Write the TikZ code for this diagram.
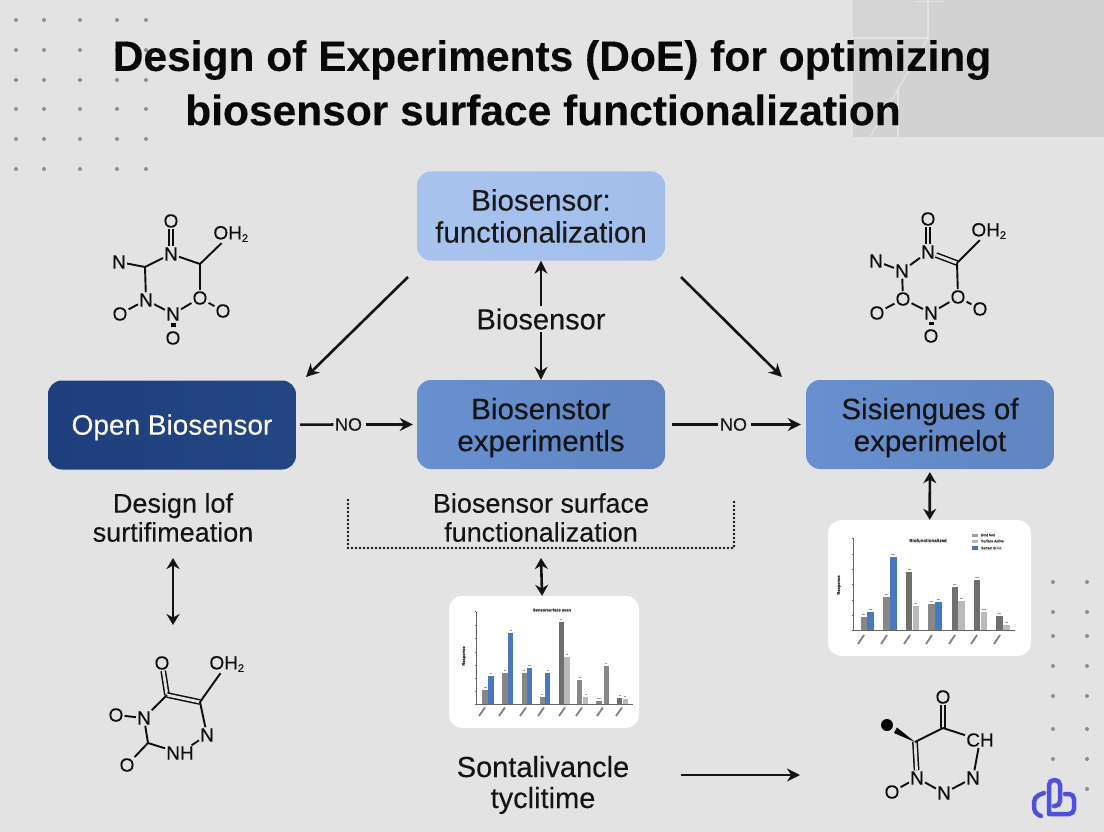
\documentclass[tikz,border=0pt]{standalone}
\usepackage{xcolor}
\usepackage{fontspec}
\setmainfont{Liberation Sans}[FakeBold=0.2]
\usetikzlibrary{arrows.meta}

\tikzset{
  box/.style={rounded corners=14pt, minimum width=248pt, minimum height=89pt, align=center, inner sep=0pt, font=\fontsize{29.5}{32}\selectfont},
  caption/.style={align=center, inner sep=0pt, text=black!92, font=\fontsize{27}{29}\selectfont},
  flow/.style={line width=2.6pt, black!92, -{Stealth[length=13pt,width=13pt]}},
  plainflow/.style={line width=2.6pt, black!92},
  twoway/.style={line width=2.6pt, black!92, {Stealth[length=11pt,width=13pt]}-{Stealth[length=11pt,width=13pt]}},
  atom/.style={inner sep=1pt, font=\fontsize{19}{20}\selectfont, text=black!95},
  bond/.style={line width=1.9pt, black!95},
  dblbond/.style={line width=1.5pt, black!95, double=bgGray, double distance=2.8pt},
  sqbond/.style={line width=5pt, shorten >=3pt, shorten <=1pt},
  chart/.style={fill=white, rounded corners=13pt, inner sep=0pt},
  tinytext/.style={inner sep=0pt, font=\bfseries\fontsize{4}{5}\selectfont, text=black!80},
  logoline/.style={logoBlue, line width=4.5pt, rounded corners=5pt, line cap=round}
}

\begin{document}
\begin{tikzpicture}[x=1pt, y=-1pt]

% Colours
\definecolor{bgGray}{HTML}{E3E3E3}
\definecolor{cornerGray}{HTML}{D2D2D2}
\definecolor{dotGray}{HTML}{8E8E8E}
\definecolor{boxTop}{HTML}{A8C3EE}
\definecolor{boxMid}{HTML}{6890D0}
\definecolor{boxDark}{HTML}{1E3F7C}
\definecolor{barBlue}{HTML}{4A78BE}
\definecolor{barGray}{HTML}{878787}
\definecolor{barDark}{HTML}{6F6F6F}
\definecolor{barLight}{HTML}{BABABA}
\definecolor{logoBlue}{HTML}{4E50DE}

% Background
\fill[bgGray] (0,0) rectangle (1104,832);
\useasboundingbox (0,0) rectangle (1104,832);
\fill[cornerGray] (853,0) rectangle (1104,137);
\fill[black!17] (853,0) rectangle (928,38);
\draw[black!11, line width=1.3pt] (928,0) -- (928,38) -- (853,38);
\draw[black!11, line width=1.3pt] (915,1.5) -- (943,1.5);
\draw[black!11, line width=1.3pt] (928,38) -- (870,137);
\draw[black!11, line width=1.3pt] (898,87) -- (898,137);

% Dot grids
\foreach \x in {16,44,80,117,146} \foreach \y in {20,50,80,109,139,169}
  \fill[dotGray] (\x,\y) circle (2pt);
\foreach \x in {1053,1087} \foreach \y in {582,612,636,666,696,729,759}
  \fill[dotGray] (\x,\y) circle (2pt);
\fill[dotGray] (1087,789) circle (2pt);

% Title
\node[font=\bfseries\fontsize{42.5}{50}\selectfont, text=black!97, inner sep=0pt] (titleA) at (552,60) {Design of Experiments (DoE) for optimizing};
\node[font=\bfseries\fontsize{42.5}{50}\selectfont, text=black!97, inner sep=0pt] (titleB) at (543,110) {biosensor surface functionalization};

% Boxes
\node[box, left color=boxTop, right color=boxTop!90!boxMid, text=black!90] (topBox) at (541,216) {Biosensor:\\functionalization};
\node[box, left color=boxMid, right color=boxMid!92!black, text=black!92] (midBox) at (541,424.5) {\rule{0pt}{27.5pt}Biosenstor\\experimentls};
\node[box, left color=boxMid, right color=boxMid!92!black, text=black!92] (rightBox) at (930,424.5) {\rule{0pt}{27.5pt}Sisiengues of\\experimelot};
\node[box, left color=boxDark, right color=boxDark!92!boxMid, text=white, font=\fontsize{28}{30}\selectfont] (openBox) at (172,425) {\rule{0pt}{25pt}Open Biosensor};

% Captions
\node[inner sep=2pt, font=\fontsize{29}{31}\selectfont, text=black!92] (sensorLabel) at (541,319) {Biosensor};
\node[caption] (designLabel) at (173,517.5) {Design lof\\surtifimeation};
\node[caption] (surfaceLabel) at (541,517.5) {Biosensor surface\\functionalization};
\node[caption, font=\fontsize{29}{31}\selectfont] (sontaLabel) at (543,785) {Sontalivancle\\tyclitime};
\node[inner sep=1.5pt, font=\fontsize{18}{20}\selectfont, text=black!90] (noA) at (348.5,424.5) {NO};
\node[inner sep=1.5pt, font=\fontsize{18}{20}\selectfont, text=black!90] (noB) at (733.5,424.5) {NO};

% Connectors
\coordinate (diagLa) at (408,277);
\coordinate (diagLb) at (306,377);
\coordinate (diagRa) at (681,277);
\coordinate (diagRb) at (782,377);
\coordinate (designEnd) at (173,625);
\coordinate (designStart) at (173,558);
\coordinate (sontaStart) at (681,775);
\coordinate (sontaEnd) at (800,775);
\coordinate (bracketLa) at (348,500);
\coordinate (bracketLb) at (348,548);
\coordinate (bracketRb) at (734,548);
\coordinate (bracketRa) at (734,500);
\coordinate (bracketMid) at (541,558);

\draw[flow] (diagLa) -- (diagLb);
\draw[flow] (diagRa) -- (diagRb);
\draw[flow] (sensorLabel) -- (topBox);
\draw[flow] (sensorLabel) -- (midBox);
\draw[plainflow, shorten <=4pt] (openBox) -- (noA);
\draw[flow, shorten >=4pt, shorten <=2pt] (noA) -- (midBox);
\draw[plainflow, shorten <=7pt] (midBox) -- (noB);
\draw[flow, shorten >=5pt, shorten <=2pt] (noB) -- (rightBox);
\draw[twoway] (designStart) -- (designEnd);
\draw[flow] (sontaStart) -- (sontaEnd);
\draw[line width=2.6pt, black!92, line cap=round, dash pattern=on 0pt off 4pt] (bracketLa) -- (bracketLb) -- (bracketRb) -- (bracketRa);

% Chart below the middle box
\node[chart, minimum width=190pt, minimum height=132pt] (chartMid) at (544,662) {};
\draw[twoway] (bracketMid) -- (chartMid);
\foreach \xa/\xb/\yt/\col in {482/488/690/barGray, 488/493.5/676/barBlue, 502/507.5/673/barGray, 508/513/633/barBlue,
    521.5/526.5/672.5/barGray, 526.5/532/668/barBlue, 539.5/544.5/697/barGray, 545/550/673/barBlue,
    558.5/563.5/621.5/barDark, 564/569.5/657/barLight, 577/582/680/barGray, 583/588/697/barLight,
    595.5/602/701/barGray, 603.5/608.5/666/barGray, 617/622/698/barDark, 622.5/627.5/699/barLight}
{
  \fill[\col] (\xa,\yt) rectangle (\xb,704.3);
  \fill[black!40] (\xa+1.5,\yt-2.8) rectangle (\xb-1.5,\yt-1.6);
}
\draw[black!60, line width=0.5pt] (476,611.5) -- (476,704.3) -- (632.5,704.3);
\foreach \y in {611.5,625.5,638.5,652,665.5,678.5,691.5,704.3}
  \draw[black!60, line width=0.5pt] (474.5,\y) -- (476,\y);
\foreach \x in {485,505,526,544,565,582,603,622}
  \draw[black!50, line width=1.8pt] (\x,707.5) -- (\x-6,716);
\node[tinytext] (chartMidTitle) at (552,610) {Sensorsurface scan};
\node[tinytext, rotate=90] (chartMidAxis) at (464,656) {Response};

% Chart below the right box
\node[chart, minimum width=203pt, minimum height=136pt] (chartRight) at (929.5,588) {};
\draw[twoway, shorten <=3pt] (rightBox) -- (chartRight);
\foreach \xa/\xb/\yt/\col in {860.5/866.5/617/barGray, 867/873.5/612/barBlue, 883/889.5/596.5/barGray, 889.5/896.5/556.5/barBlue,
    906/912/571.5/barDark, 912.5/918.5/606/barLight, 928/934.5/604/barGray, 935/941.5/601.5/barBlue,
    951.5/957.5/586.5/barDark, 958/964.5/601/barLight, 973.5/980/579.5/barDark, 980.5/987/612/barLight,
    996/1002.5/616/barDark, 1003/1009.5/624.5/barLight}
{
  \fill[\col] (\xa,\yt) rectangle (\xb,630.7);
  \fill[black!40] (\xa+1.5,\yt-2.8) rectangle (\xb-1.5,\yt-1.6);
}
\draw[black!60, line width=0.5pt] (853.5,538.5) -- (853.5,630.7) -- (1015,630.7);
\foreach \y in {538.5,554,569.5,584.5,600.5,615.5,630.7}
  \draw[black!60, line width=0.5pt] (852,\y) -- (853.5,\y);
\foreach \x in {864,887,910,932,955,977,1000}
  \draw[black!50, line width=1.8pt] (\x,635) -- (\x-6,644);
\node[tinytext, font=\bfseries\fontsize{4.5}{5}\selectfont] (chartRightTitle) at (928,540.5) {Biofunctionalized};
\node[tinytext, rotate=90] (chartRightAxis) at (839,585) {Response};
\fill[barGray!80] (972,533.5) rectangle (978,537);
\fill[barLight] (972,539.5) rectangle (978,543);
\fill[barBlue] (972,546) rectangle (978,549.5);
\node[tinytext, anchor=west, font=\fontsize{3.5}{4}\selectfont] (legendA) at (981,535) {Bind test};
\node[tinytext, anchor=west, font=\fontsize{3.5}{4}\selectfont] (legendB) at (981,541) {Surface Active};
\node[tinytext, anchor=west, font=\fontsize{3.5}{4}\selectfont] (legendC) at (981,548) {Sensor Bi Fn};

% Molecule top left
\node[atom] (tlO) at (171,221) {O};
\node[atom] (tlN) at (171,254) {N};
\coordinate (tlCa) at (200,264);
\node[atom] (tlOH) at (231,234) {OH\textsubscript{\fontsize{11}{11}\selectfont 2}};
\node[atom] (tlOb) at (200,298) {O};
\node[atom] (tlOc) at (223,311) {O};
\node[atom] (tlNb) at (173,314) {N};
\node[atom] (tlOd) at (173,338) {O};
\node[atom] (tlNc) at (146,300) {N};
\node[atom] (tlOe) at (120,314) {O};
\coordinate (tlCb) at (145,267);
\node[atom] (tlNd) at (119,262) {N};
\draw[dblbond] (tlO) -- (tlN);
\foreach \a/\b in {tlN/tlCa, tlCa/tlOH, tlCa/tlOb, tlOb/tlOc, tlOb/tlNb, tlNb/tlNc, tlNc/tlOe, tlNc/tlCb, tlCb/tlN, tlCb/tlNd}
  \draw[bond] (\a) -- (\b);
\draw[sqbond] (tlNb) -- (tlOd);

% Molecule top right
\node[atom] (trO) at (928,219) {O};
\node[atom] (trN) at (928,252) {N};
\coordinate (trCa) at (957,263);
\node[atom] (trOH) at (989,231) {OH\textsubscript{\fontsize{11}{11}\selectfont 2}};
\node[atom] (trOb) at (958,297) {O};
\node[atom] (trOc) at (980,309) {O};
\node[atom] (trNb) at (931,313) {N};
\node[atom] (trOd) at (931,336) {O};
\node[atom] (trOe) at (903,299) {O};
\node[atom] (trOf) at (877,313) {O};
\node[atom] (trNc) at (902,271) {N};
\node[atom] (trNd) at (876,261) {N};
\draw[dblbond] (trO) -- (trN);
\draw[dblbond] (trN) -- (trCa);
\foreach \a/\b in {trCa/trOH, trCa/trOb, trOb/trOc, trOb/trNb, trNb/trOe, trOe/trOf, trOe/trNc, trNc/trN, trNc/trNd}
  \draw[bond] (\a) -- (\b);
\draw[sqbond] (trNb) -- (trOd);

% Molecule bottom left
\node[atom] (blO) at (162,663) {O};
\coordinate (blCa) at (167,695);
\coordinate (blCb) at (200,702);
\node[atom] (blOH) at (227,664) {OH\textsubscript{\fontsize{11}{11}\selectfont 2}};
\node[atom] (blNa) at (207,735) {N};
\node[atom] (blNb) at (180,753) {NH};
\coordinate (blCc) at (148,743);
\node[atom] (blOb) at (127,765) {O};
\node[atom] (blNc) at (144,718) {N};
\node[atom] (blOc) at (116,715) {O};
\draw[dblbond] (blO) -- (blCa);
\draw[dblbond] (blCa) -- (blCb);
\foreach \a/\b in {blCb/blOH, blCb/blNa, blNa/blNb, blNb/blCc, blCc/blOb, blCc/blNc, blNc/blOc, blNc/blCa}
  \draw[bond] (\a) -- (\b);

% Molecule bottom right
\node[atom] (brO) at (943,697) {O};
\coordinate (brCa) at (943,728);
\node[atom] (brCH) at (980,740) {CH};
\coordinate (brCb) at (915,742);
\node[circle, fill=black, inner sep=0pt, minimum size=12pt] (brDot) at (887,725) {};
\node[atom] (brNa) at (917,778) {N};
\node[atom] (brOb) at (892,792) {O};
\node[atom] (brNb) at (944,793) {N};
\node[atom] (brNc) at (973,778) {N};
\draw[dblbond] (brO) -- (brCa);
\draw[dblbond] (brCb) -- (brNa);
\foreach \a/\b in {brCa/brCH, brCa/brCb, brCH/brNc, brNc/brNb, brNb/brNa, brNa/brOb}
  \draw[bond] (\a) -- (\b);
\fill[black] (brCb) -- (894,733) -- (897,727.5) -- cycle;

% Logo
\draw[logoline] (1049,812) -- (1049,780) -- (1060,780) -- (1060,806) -- (1054,806);
\draw[logoline] (1049,814) -- (1074,814) -- (1074,794) -- (1065,794);
\draw[logoline] (1044,793) -- (1034,797) -- (1034,813) -- (1041,816);

\end{tikzpicture}
\end{document}
